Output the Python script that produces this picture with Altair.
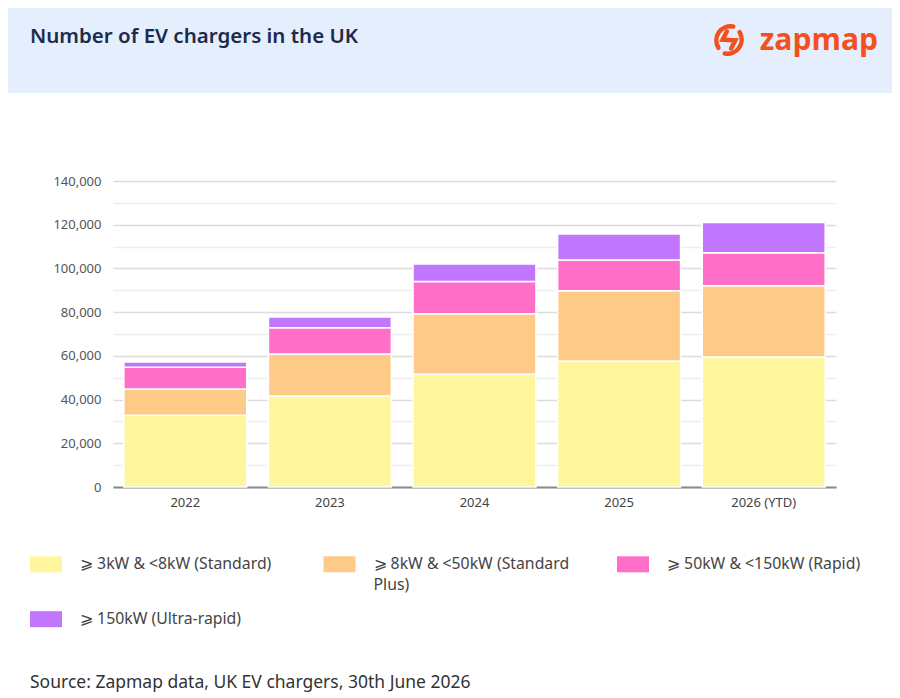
import altair as alt
import pandas as pd

# ---- data ----
years = ["2022", "2023", "2024", "2025", "2026 (YTD)"]
categories = [
    "⩾ 3kW & <8kW (Standard)",
    "⩾ 8kW & <50kW (Standard Plus)",
    "⩾ 50kW & <150kW (Rapid)",
    "⩾ 150kW (Ultra-rapid)",
]
standard = [32800, 41600, 51600, 57600, 59500]
standard_plus = [12000, 19200, 27700, 32200, 32600]
rapid = [10000, 12100, 14700, 14000, 15100]
ultra_rapid = [2400, 4900, 8000, 11900, 13800]
colors = ["#FFF59D", "#FDCB87", "#FF6EC7", "#C077FD"]

title_text = ["Number of EV chargers in the UK"]
logo_text = ["zapmap"]
source_text = ["Source: Zapmap data, UK EV chargers, 30th June 2026"]

series = [standard, standard_plus, rapid, ultra_rapid]
rows = []
for i, (cat, vals) in enumerate(zip(categories, series)):
    for yr, v in zip(years, vals):
        rows.append({"year": yr, "type": cat, "value": v, "stackorder": i})
df = pd.DataFrame(rows)

W, H = 723, 306
FONT = "Noto Sans"

bars = alt.Chart(df).mark_bar(stroke="white", strokeWidth=1.5).encode(
    x=alt.X(
        "year:N",
        sort=years,
        scale=alt.Scale(paddingInner=0.15, paddingOuter=0.075),
        axis=alt.Axis(
            title=None, labelAngle=0, ticks=False, grid=False,
            domainColor="#8a8a8a", domainWidth=2,
            labelFont=FONT, labelFontSize=13, labelColor="#444444", labelPadding=9,
        ),
    ),
    y=alt.Y(
        "value:Q",
        stack="zero",
        scale=alt.Scale(domain=[0, 140000], nice=False),
        axis=alt.Axis(
            title=None,
            values=list(range(0, 140001, 10000)),
            labelExpr="datum.value % 20000 === 0 ? format(datum.value, ',') : ''",
            ticks=False, domain=False,
            gridColor={"condition": {"test": "datum.value % 20000 === 0", "value": "#dcdcdc"},
                       "value": "#eeeeee"},
            gridWidth=1.3,
            labelFont=FONT, labelFontSize=13, labelColor="#555555", labelPadding=12,
        ),
    ),
    color=alt.Color(
        "type:N",
        sort=categories,
        scale=alt.Scale(domain=categories, range=colors),
        legend=alt.Legend(
            title=None, orient="none", legendX=-83, legendY=372,
            direction="horizontal", columns=3, gridAlign="all",
            symbolType="M-1,-0.8H1V0.2H-1Z", symbolSize=1024, symbolStrokeWidth=0,
            symbolOpacity=1,
            labelFont=FONT, labelFontSize=15.8, labelColor="#444444",
            labelOffset=18, labelLimit=400, labelBaseline="alphabetic",
            labelExpr="indexof(datum.label, ' Plus') >= 0 ? split(replace(datum.label, ' Plus', '|Plus'), '|') : [datum.label, ' ']",
            columnPadding=47.5, rowPadding=15,
        ),
    ),
    order=alt.Order("stackorder:Q", sort="ascending"),
)

one = pd.DataFrame({"t": [0]})

header = alt.Chart(one).mark_rect(color="#E4EEFD").encode(
    x=alt.value(-105), x2=alt.value(779), y=alt.value(-173), y2=alt.value(-88)
)

title = alt.Chart(pd.DataFrame({"t": title_text})).mark_text(
    align="left", baseline="middle", font=FONT, fontSize=20.5, fontWeight=600, color="#1C2B4B"
).encode(text="t:N", x=alt.value(-83), y=alt.value(-144))

logo = alt.Chart(pd.DataFrame({"t": logo_text})).mark_text(
    align="right", baseline="alphabetic", font="Open Sans", fontSize=30, fontWeight="bold",
    color="#F4501E"
).encode(text="t:N", x=alt.value(765), y=alt.value(-131))

icon = alt.Chart(one).mark_point(
    shape="M0.3,-0.95A1,1 0 0,0 -0.75,0.55M-0.15,-0.6L-0.45,-0.02L0.45,0.02L0.15,0.6M0.75,-0.55A1,1 0 0,1 -0.3,0.95",
    filled=False, stroke="#F4501E", strokeWidth=4.5, strokeCap="round", size=800, opacity=1,
).encode(x=alt.value(616), y=alt.value(-141))

source = alt.Chart(pd.DataFrame({"t": source_text})).mark_text(
    align="left", baseline="middle", font=FONT, fontSize=17.5, color="#333333"
).encode(text="t:N", x=alt.value(-83), y=alt.value(502))

chart = alt.layer(header, title, icon, logo, bars, source).properties(
    width=W, height=H, padding={"left": 0, "top": 0, "right": 0, "bottom": 6}, background="white"
).configure(
    style={"guide-label": {"lineHeight": 21}},
    view=alt.ViewConfig(stroke=None),
)

chart.save("out.html", embed_options={"renderer": "svg", "actions": False})
